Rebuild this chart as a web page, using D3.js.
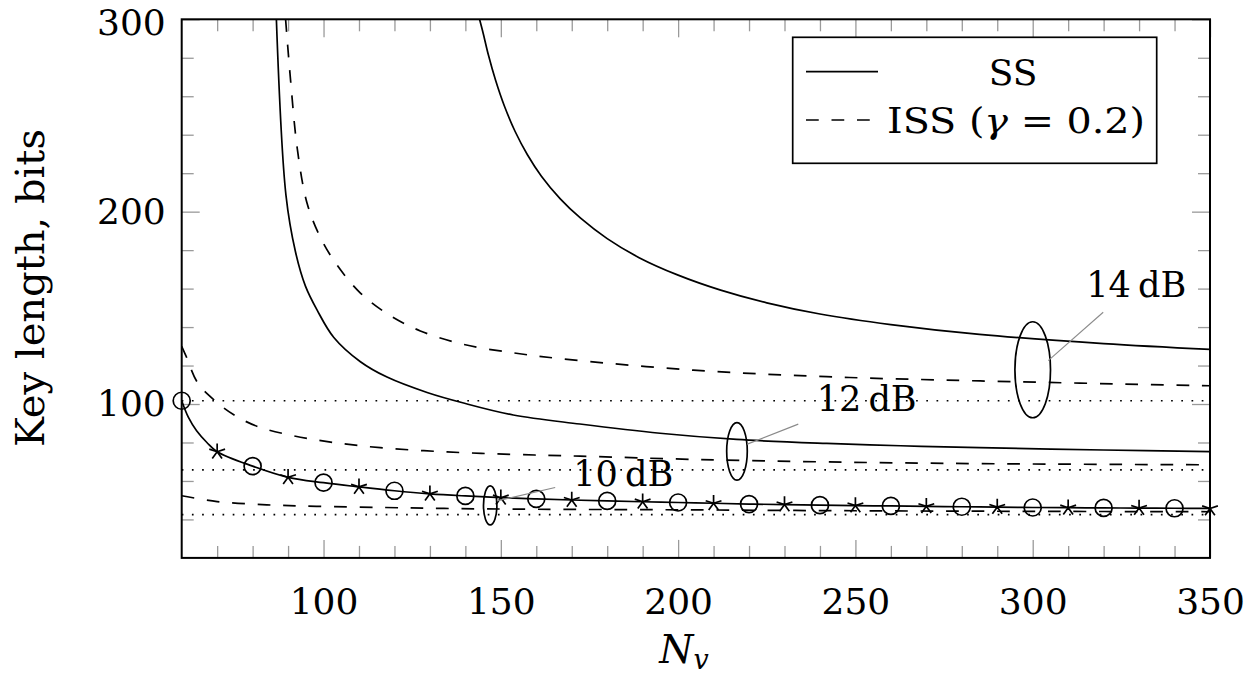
<!DOCTYPE html>
<html><head><meta charset="utf-8">
<script src="https://cdn.jsdelivr.net/npm/d3@7"></script>
<style>
html,body{margin:0;padding:0;background:#fff;}
svg text{font-family:"DejaVu Serif","Liberation Serif",serif;fill:#000;}
</style></head>
<body>
<svg id="c" width="1253" height="676"></svg>
<script>
// ---------- data ----------
const xTicksMajor = [100, 150, 200, 250, 300, 350];
const yTicksMajor = [100, 200, 300];

// SS, 14 dB
const ss14N = [144, 145, 146.5, 148.5, 151, 154, 157.5, 161.5, 166.7, 172.5, 180, 189, 200, 212, 225, 240, 260, 285, 320, 350];
const ss14V = [300, 292.9, 281.4, 268.4, 254.9, 241.8, 229.6, 218.3, 206.8, 196.6, 186.0, 176.1, 167.0, 159.2, 152.6, 146.8, 141.3, 136.2, 131.4, 128.4];
// SS, 12 dB
const ss12N = [86.7, 89.4, 92.1, 94.9, 98.2, 102.9, 110.4, 117.9, 129.2, 139.5, 153.5, 172.3, 194.9, 216.5, 241.9, 262.7, 285, 320, 350];
const ss12V = [300, 208.6, 179, 161.3, 148.8, 134.6, 122, 114, 106, 100.5, 94.3, 89.6, 84.8, 81.6, 79.5, 78.3, 77.3, 76.1, 75.2];
// SS, 10 dB
const ss10N = [60, 61.9, 64.2, 67.1, 70, 80, 90, 100, 110, 120, 130, 140, 150, 160, 170, 180, 190, 200, 210, 220, 230, 240, 250, 260, 270, 280, 290, 300, 310, 320, 330, 340, 350];
const ss10V = [101.7, 93.0, 86.1, 80.0, 75.2, 67.7, 61.9, 59.1, 56.9, 54.9, 53.3, 52.2, 51.3, 50.7, 50.1, 49.6, 49.2, 48.8, 48.4, 48.0, 47.7, 47.4, 47.2, 47.0, 46.8, 46.6, 46.4, 46.2, 46.1, 46.0, 45.9, 45.8, 45.7];
// markers on the 10 dB SS curve
const circN = [60, 80, 100, 120, 140, 160, 180, 200, 220, 240, 260, 280, 300, 320, 340];
const circV = [101.7, 67.7, 59.1, 54.9, 52.2, 50.7, 49.6, 48.8, 48.0, 47.4, 47.0, 46.6, 46.2, 46.0, 45.8];
const starN = [70, 90, 110, 130, 150, 170, 190, 210, 230, 250, 270, 290, 310, 330, 350];
const starV = [75.2, 61.9, 56.9, 53.3, 51.3, 50.1, 49.2, 48.4, 47.7, 47.2, 46.8, 46.4, 46.1, 45.9, 45.7];

// ISS (gamma = 0.2), 14 dB
const iss14N = [89.3, 90.7, 92.6, 95.4, 99.2, 103.9, 110.4, 117.9, 127.3, 139.5, 153.5, 166.7, 204.3, 241.9, 285.2, 350];
const iss14V = [300, 268.4, 232.7, 204.1, 186.3, 172, 157.7, 147, 138, 131, 126.6, 123.6, 117.6, 114.2, 112.0, 109.5];
// ISS, 12 dB
const iss12N = [60, 61.2, 64.5, 69.2, 74.8, 81.4, 90.7, 102, 116, 134.8, 153.5, 172.3, 204.3, 241.9, 285.2, 350];
const iss12V = [130, 125, 111, 102, 94.3, 88.3, 83.8, 80.2, 77.3, 75.1, 73.8, 72.9, 71.2, 69.9, 69.0, 68.4];
// ISS, 10 dB
const iss10N = [60, 70, 84, 98, 117, 134, 160, 200, 250, 300, 350];
const iss10V = [52.3, 49.3, 47.6, 46.8, 46.2, 45.7, 45.3, 45.0, 44.5, 44.2, 44.0];

// dotted reference levels
const refLevels = [101.7, 65.8, 42.5];

// annotations (ellipse centre in data units)
const annLabels = ["14\u2009dB", "12\u2009dB", "10\u2009dB"];
const annN = [300, 216.6, 147];
const annV = [117.8, 75.4, 47.3];

const legendLabels = ["SS", "ISS"];

// ---------- layout ----------
const L = 181.7, R = 1210, T = 19.3, B = 557.9;
const x = d3.scaleLinear().domain([60, 350]).range([L, R]);
const y = d3.scaleLinear().domain([20, 300]).range([B, T]);
const svg = d3.select("#c");
const FS = 36;
const LW = 1.7;
const DASH = "12.75,12.75";
const DOT = "1.7,8.5";

svg.append("defs").append("clipPath").attr("id", "clip")
  .append("rect").attr("x", L).attr("y", T).attr("width", R - L).attr("height", B - T);

// ticks
const minorX = d3.range(70, 350, 10).filter(v => v % 50 !== 0);
const minorY = d3.range(40, 300, 20).filter(v => v % 100 !== 0);
function tickStyle(g) {
  g.select(".domain").remove();
  g.attr("font-family", null).attr("font-size", null);
  g.selectAll(".tick line").attr("stroke", "#9a9a9a").attr("stroke-width", 1.3);
  g.selectAll(".tick text").attr("font-size", FS);
}
svg.append("g").attr("transform", `translate(0,${B})`)
  .call(d3.axisBottom(x).tickValues(minorX).tickSize(-12).tickFormat("")).call(tickStyle);
svg.append("g").attr("transform", `translate(0,${B})`)
  .call(d3.axisBottom(x).tickValues(xTicksMajor).tickSize(-18).tickPadding(31).tickFormat(d3.format("d"))).call(tickStyle);
svg.append("g").attr("transform", `translate(0,${T})`)
  .call(d3.axisTop(x).tickValues(minorX).tickSize(-12).tickFormat("")).call(tickStyle);
svg.append("g").attr("transform", `translate(0,${T})`)
  .call(d3.axisTop(x).tickValues(xTicksMajor).tickSize(-18).tickFormat("")).call(tickStyle);
svg.append("g").attr("transform", `translate(${L},0)`)
  .call(d3.axisLeft(y).tickValues(minorY).tickSize(-12).tickFormat("")).call(tickStyle);
const yAx = svg.append("g").attr("transform", `translate(${L},0)`)
  .call(d3.axisLeft(y).tickValues(yTicksMajor).tickSize(-18).tickPadding(16).tickFormat(d3.format("d"))).call(tickStyle);
yAx.selectAll(".tick text").filter(d => d === 300).attr("dy", "0.42em");
svg.append("g").attr("transform", `translate(${R},0)`)
  .call(d3.axisRight(y).tickValues(minorY).tickSize(-12).tickFormat("")).call(tickStyle);
svg.append("g").attr("transform", `translate(${R},0)`)
  .call(d3.axisRight(y).tickValues(yTicksMajor).tickSize(-18).tickFormat("")).call(tickStyle);

const plot = svg.append("g").attr("clip-path", "url(#clip)");

// dotted levels
plot.selectAll("line.ref").data(refLevels).join("line")
  .attr("x1", x(60)).attr("x2", x(350))
  .attr("y1", d => y(d)).attr("y2", d => y(d))
  .attr("stroke", "#000").attr("stroke-width", LW).attr("stroke-dasharray", DOT).attr("stroke-linecap", "butt");

const line = d3.line().x(d => x(d[0])).y(d => y(d[1])).curve(d3.curveCatmullRom.alpha(0.5));
const zip = (a, b) => a.map((v, i) => [v, b[i]]);
const series = [
  {d: zip(ss14N, ss14V), dash: null},
  {d: zip(ss12N, ss12V), dash: null},
  {d: zip(ss10N, ss10V), dash: null},
  {d: zip(iss14N, iss14V), dash: DASH},
  {d: zip(iss12N, iss12V), dash: DASH},
  {d: zip(iss10N, iss10V), dash: DASH}
];
plot.selectAll("path.s").data(series).join("path")
  .attr("d", s => line(s.d)).attr("fill", "none").attr("stroke", "#000")
  .attr("stroke-width", LW).attr("stroke-dasharray", s => s.dash);

// markers
const mk = svg.append("g");
mk.selectAll("circle").data(zip(circN, circV)).join("circle")
  .attr("cx", d => x(d[0])).attr("cy", d => y(d[1])).attr("r", 8.5)
  .attr("fill", "none").attr("stroke", "#000").attr("stroke-width", LW);
const SR = 8.3;
const starPath = d3.range(5).map(k => {
  const a = (90 + 72 * k) * Math.PI / 180;
  return `M0,0L${(SR * Math.cos(a)).toFixed(2)},${(-SR * Math.sin(a)).toFixed(2)}`;
}).join("");
mk.selectAll("path.star").data(zip(starN, starV)).join("path")
  .attr("transform", d => `translate(${x(d[0])},${y(d[1])})`)
  .attr("d", starPath).attr("fill", "none").attr("stroke", "#000").attr("stroke-width", LW);

// annotations
const annGeom = [
  {rx: 17.8, ry: 48, l: [15.5, -9.2, 70.5, -57.5], t: [53.5, -72.5]},
  {rx: 10.3, ry: 28.8, l: [10.3, -7.2, 61.3, -27.2], t: [79.7, -40.5]},
  {rx: 6.7, ry: 19.5, l: [6.7, -4.5, 65, -17.8], t: [83, -19.5]}
];
annLabels.forEach((lab, i) => {
  const cx = x(annN[i]), cy = y(annV[i]), g = annGeom[i];
  svg.append("ellipse").attr("cx", cx).attr("cy", cy).attr("rx", g.rx).attr("ry", g.ry)
    .attr("fill", "none").attr("stroke", "#000").attr("stroke-width", LW);
  svg.append("line").attr("x1", cx + g.l[0]).attr("y1", cy + g.l[1])
    .attr("x2", cx + g.l[2]).attr("y2", cy + g.l[3])
    .attr("stroke", "#8a8a8a").attr("stroke-width", 1.1);
  svg.append("text").attr("x", cx + g.t[0]).attr("y", cy + g.t[1])
    .attr("font-size", FS).attr("textLength", 100).attr("lengthAdjust", "spacingAndGlyphs").text(lab);
});

// frame
svg.append("rect").attr("x", L).attr("y", T).attr("width", R - L).attr("height", B - T)
  .attr("fill", "none").attr("stroke", "#000").attr("stroke-width", 2);

// legend
const lg = svg.append("g");
lg.append("rect").attr("x", 792.7).attr("y", 37.3).attr("width", 364).attr("height", 126)
  .attr("fill", "#fff").attr("stroke", "#000").attr("stroke-width", LW);
lg.append("line").attr("x1", 806).attr("x2", 878).attr("y1", 71.7).attr("y2", 71.7)
  .attr("stroke", "#000").attr("stroke-width", LW);
lg.append("line").attr("x1", 806).attr("x2", 878).attr("y1", 120).attr("y2", 120)
  .attr("stroke", "#000").attr("stroke-width", LW).attr("stroke-dasharray", DASH);
lg.append("text").attr("x", 1013).attr("y", 85).attr("font-size", FS).attr("text-anchor", "middle").text(legendLabels[0]);
const t2 = lg.append("text").attr("x", 887).attr("y", 133.3).attr("font-size", FS)
  .attr("textLength", 258).attr("lengthAdjust", "spacingAndGlyphs");
t2.append("tspan").text(legendLabels[1] + " (");
t2.append("tspan").attr("font-style", "italic").text("\u03B3");
t2.append("tspan").text(" = 0.2)");

// axis labels
const xl = svg.append("text").attr("x", 684).attr("y", 663).attr("font-size", FS + 3).attr("text-anchor", "middle");
xl.append("tspan").attr("font-style", "italic").text("N");
xl.append("tspan").attr("font-style", "italic").attr("font-size", 27).attr("dy", 6).text("v");
svg.append("text").attr("transform", "translate(44,288) rotate(-90)")
  .attr("font-size", 40).attr("text-anchor", "middle").text("Key length, bits");
</script>
</body></html>
